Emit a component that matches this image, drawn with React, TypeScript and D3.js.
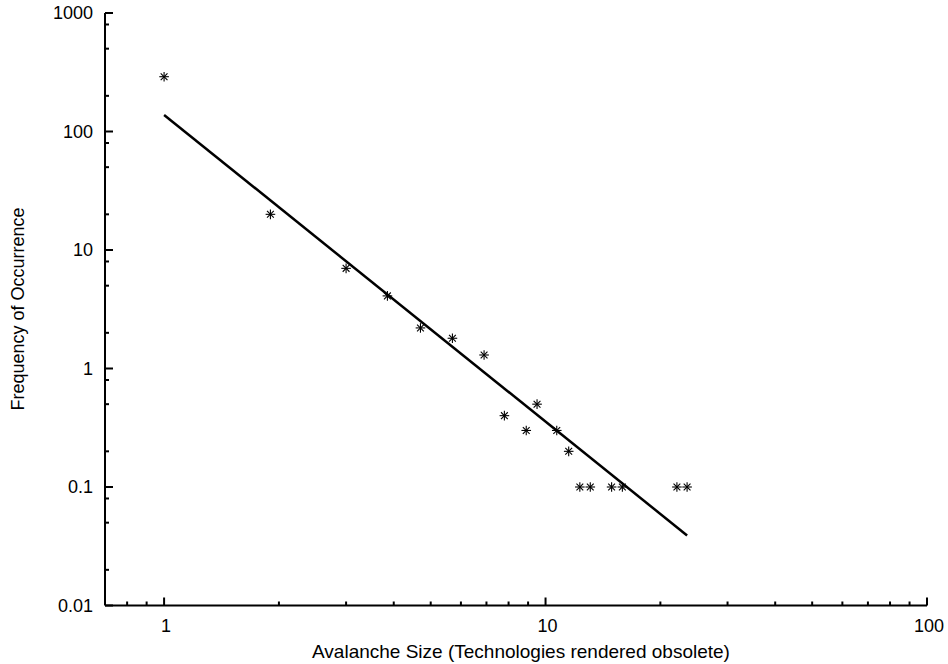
import React from "react";
import * as d3 from "d3";

// avalanche sizes and how often they happen
const sizes = [1, 1.9, 3, 3.85, 4.7, 5.7, 6.9, 7.8, 8.9, 9.5, 10.7, 11.5, 12.3, 13.1, 14.9, 15.9, 22.1, 23.5];
const freqs = [290, 20, 7, 4.1, 2.2, 1.8, 1.3, 0.4, 0.3, 0.5, 0.3, 0.2, 0.1, 0.1, 0.1, 0.1, 0.1, 0.1];

// power-law fit, two ends (straight on log-log)
const fitX = [1, 23.5];
const fitY = [138, 0.039];

const xTicks = [1, 10, 100];
const xTickLabels = ["1", "10", "100"];
const xMinor = [0.8, 0.9, 2, 3, 4, 5, 6, 7, 8, 9, 20, 30, 40, 50, 60, 70, 80, 90];
const yTicks = [0.01, 0.1, 1, 10, 100, 1000];
const yTickLabels = ["0.01", "0.1", "1", "10", "100", "1000"];
const yMinor = [0.02, 0.05, 0.08, 0.2, 0.5, 0.8, 2, 5, 8, 20, 50, 80, 200, 500, 800];

const W = 948;
const H = 664;
const FONT = "Liberation Sans, Arial, Helvetica, sans-serif";

// 8 armed asterisk marker
function Star({ cx, cy }: { cx: number; cy: number }) {
  const r = 4.8;
  const d = r * 0.7071;
  return (
    <g stroke="#000" strokeWidth={1.1}>
      <line x1={cx - r} y1={cy} x2={cx + r} y2={cy} />
      <line x1={cx} y1={cy - r} x2={cx} y2={cy + r} />
      <line x1={cx - d} y1={cy - d} x2={cx + d} y2={cy + d} />
      <line x1={cx - d} y1={cy + d} x2={cx + d} y2={cy - d} />
    </g>
  );
}

export default function App() {
  const x = d3.scaleLog().domain([0.7, 100]).range([105, 927]);
  const y = d3.scaleLog().domain([0.01, 1000]).range([605.5, 13]);
  const x0 = x.range()[0];
  const y0 = y.range()[0];

  const fitLine = d3
    .line<number>()
    .x((d) => x(d))
    .y((d, i) => y(fitY[i]));

  return (
    <div>
      <style>{"body{margin:0}"}</style>
      <svg width={W} height={H} style={{ display: "block", background: "#fff" }}>
        {/* axes */}
        <g stroke="#000" strokeWidth={2} fill="none">
          <line x1={x0} y1={y0} x2={x.range()[1]} y2={y0} />
          <line x1={x0} y1={y0} x2={x0} y2={y.range()[1]} />
          {xTicks.map((t) => (
            <line key={"xt" + t} x1={x(t)} x2={x(t)} y1={y0} y2={y0 - 8} />
          ))}
          {xMinor.map((t) => (
            <line key={"xm" + t} x1={x(t)} x2={x(t)} y1={y0} y2={y0 - 4} />
          ))}
          {yTicks.map((t) => (
            <line key={"yt" + t} x1={x0} x2={x0 + 8} y1={y(t)} y2={y(t)} />
          ))}
          {yMinor.map((t) => (
            <line key={"ym" + t} x1={x0} x2={x0 + 4} y1={y(t)} y2={y(t)} />
          ))}
        </g>

        {/* tick labels */}
        <g fontFamily={FONT} fontSize={18} fill="#000">
          {xTicks.map((t, i) => (
            <text key={"xl" + t} x={x(t) + 2} y={632} textAnchor="middle">
              {xTickLabels[i]}
            </text>
          ))}
          {yTicks.map((t, i) => (
            <text key={"yl" + t} x={93} y={y(t)} textAnchor="end" dominantBaseline="central">
              {yTickLabels[i]}
            </text>
          ))}
          <text x={521} y={658} textAnchor="middle" fontSize={19}>
            Avalanche Size (Technologies rendered obsolete)
          </text>
          <text transform="translate(24,309) rotate(-90)" textAnchor="middle">
            Frequency of Occurrence
          </text>
        </g>

        {/* fit */}
        <path d={fitLine(fitX) || ""} stroke="#000" strokeWidth={2.5} fill="none" />

        {/* points */}
        {sizes.map((s, i) => (
          <Star key={i} cx={x(s)} cy={y(freqs[i])} />
        ))}
      </svg>
    </div>
  );
}
